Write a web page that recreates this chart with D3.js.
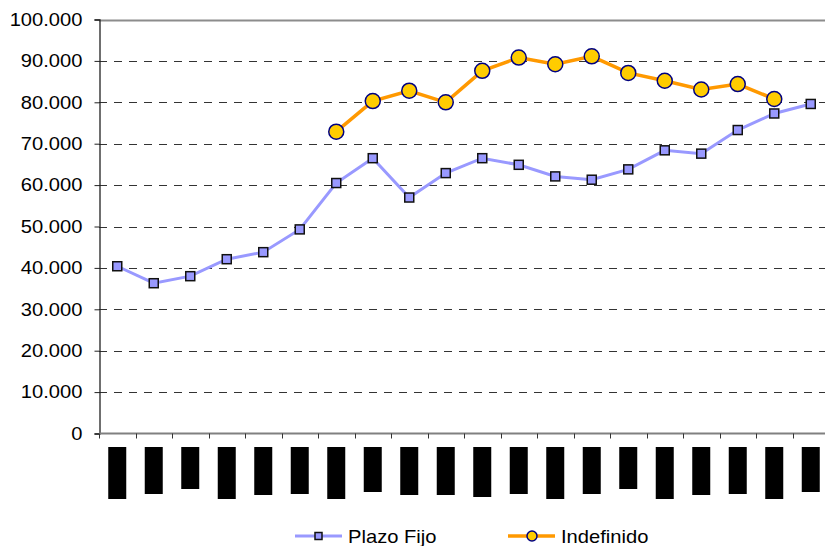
<!DOCTYPE html>
<html>
<head>
<meta charset="utf-8">
<script src="https://cdn.jsdelivr.net/npm/d3@7"></script>
<style>
	body { margin: 0; background: #fff; }
	svg { display: block; overflow: hidden; }
	text { font-family: "Liberation Sans", Arial, sans-serif; font-size: 18px; fill: #000; }
</style>
</head>
<body>
<div id="chart"></div>
<script>

// categories (the x labels are unreadable blocks in the source)
const periods = d3.range(1, 21).map((i) => "P" + i);

// series values
const plazoFijo = [40400, 36300, 38000, 42100, 43800, 49300, 60500, 66500, 57000, 62900,
				   66500, 64900, 62100, 61300, 63800, 68400, 67600, 73300, 77300, 79600];
const indefinido = [null, null, null, null, null, null, 72900, 80300, 82800, 80000,
					87600, 90800, 89200, 91100, 87100, 85200, 83100, 84400, 80800, null];

// y ticks
const yTicks = d3.range(0, 100001, 10000);

// length of each blacked-out x label
const labelBlocks = [52, 47, 42, 52, 48, 47, 52, 45, 48, 48, 50, 47, 52, 47, 42, 52, 48, 47, 52, 45];

const width = 825;
const height = 546;
const plotLeft = 99;
const plotRight = 829;
const plotTop = 19.5;
const plotBottom = 433.5;
const stretch = 1.12; // the source text is a bit wider than plain Arial

const svg = d3.select("#chart")
			.append("svg")
				.attr("width", width)
				.attr("height", height);

const x = d3.scaleBand()
			.domain(periods)
			.range([plotLeft, plotRight]);
const cx = (p) => x(p) + x.bandwidth() / 2;

const y = d3.scaleLinear()
			.domain([0, 100000])
			.range([plotBottom, plotTop]);

const fmt = d3.formatLocale({ decimal: ",", thousands: ".", grouping: [3], currency: ["", ""] }).format(",d");

// gridlines
svg.append("g")
	.selectAll("line")
	.data(yTicks.filter((t) => t > 0))
	.join("line")
		.attr("x1", plotLeft)
		.attr("x2", width)
		.attr("y1", (d) => Math.round(y(d)) + 0.5)
		.attr("y2", (d) => Math.round(y(d)) + 0.5)
		.style("stroke", (d) => d === 100000 ? "#8c8c8c" : "#333")
		.style("stroke-width", (d) => d === 100000 ? 2 : 1)
		.style("stroke-dasharray", (d) => d === 100000 ? null : "8,7");

// y axis
const yAxis = svg.append("g")
	.attr("transform", `translate(${plotLeft + 0.5},0)`)
	.call(d3.axisLeft(y).tickValues(yTicks).tickFormat(fmt).tickSize(5).tickPadding(12));
yAxis.select(".domain").attr("stroke", "#222").attr("stroke-width", 1.3);
yAxis.selectAll(".tick line").attr("stroke", "#222");
yAxis.selectAll("text")
	.style("font-size", "18px")
	.attr("fill", "#000")
	.attr("x", -17 / stretch)
	.attr("transform", `scale(${stretch},1)`);

// x axis
svg.append("line")
	.attr("x1", plotLeft)
	.attr("x2", width)
	.attr("y1", plotBottom)
	.attr("y2", plotBottom)
	.style("stroke", "#808080")
	.style("stroke-width", 2);

svg.append("g")
	.selectAll("line")
	.data(periods)
	.join("line")
		.attr("x1", (d) => Math.round(x(d)) + 0.5)
		.attr("x2", (d) => Math.round(x(d)) + 0.5)
		.attr("y1", plotBottom)
		.attr("y2", plotBottom + 5)
		.style("stroke", "#333");

// x labels (rendered as black blocks)
svg.append("g")
	.selectAll("rect")
	.data(periods)
	.join("rect")
		.attr("x", (d) => cx(d) - 9)
		.attr("y", 447)
		.attr("width", 18)
		.attr("height", (d, i) => labelBlocks[i])
		.style("fill", "#000");

// lines
const pfData = periods.map((p, i) => ({ p: p, v: plazoFijo[i] }));
const inData = periods.map((p, i) => ({ p: p, v: indefinido[i] }));

const line = d3.line()
				.defined((d) => d.v != null)
				.x((d) => cx(d.p))
				.y((d) => y(d.v));

svg.append("path")
	.datum(pfData)
		.style("fill", "none")
		.style("stroke", "#9999FF")
		.style("stroke-width", 3)
		.attr("d", line);

svg.append("path")
	.datum(inData)
		.style("fill", "none")
		.style("stroke", "#FF9900")
		.style("stroke-width", 3.5)
		.attr("d", line);

// markers
svg.append("g")
	.selectAll("rect")
	.data(pfData)
	.join("rect")
		.attr("x", (d) => cx(d.p) - 4.5)
		.attr("y", (d) => y(d.v) - 4.5)
		.attr("width", 9)
		.attr("height", 9)
		.style("fill", "#9999FF")
		.style("stroke", "#111")
		.style("stroke-width", 1.5);

svg.append("g")
	.selectAll("circle")
	.data(inData.filter((d) => d.v != null))
	.join("circle")
		.attr("cx", (d) => cx(d.p))
		.attr("cy", (d) => y(d.v))
		.attr("r", 7.5)
		.style("fill", "#FFCC00")
		.style("stroke", "#000080")
		.style("stroke-width", 1.5);

// legend
const legend = svg.append("g").attr("transform", "translate(0,536)");

legend.append("line")
	.attr("x1", 295).attr("x2", 342)
	.style("stroke", "#9999FF").style("stroke-width", 3);
legend.append("rect")
	.attr("x", 315).attr("y", -3.5).attr("width", 7).attr("height", 7)
	.style("fill", "#9999FF").style("stroke", "#111").style("stroke-width", 1.5);
legend.append("text")
	.attr("transform", `translate(348,6.5) scale(${stretch},1)`)
	.text("Plazo Fijo");

legend.append("line")
	.attr("x1", 508).attr("x2", 555)
	.style("stroke", "#FF9900").style("stroke-width", 3.5);
legend.append("circle")
	.attr("cx", 532).attr("cy", 0).attr("r", 5)
	.style("fill", "#FFCC00").style("stroke", "#000080").style("stroke-width", 1.5);
legend.append("text")
	.attr("transform", `translate(561,6.5) scale(${stretch},1)`)
	.text("Indefinido");

</script>
</body>
</html>
